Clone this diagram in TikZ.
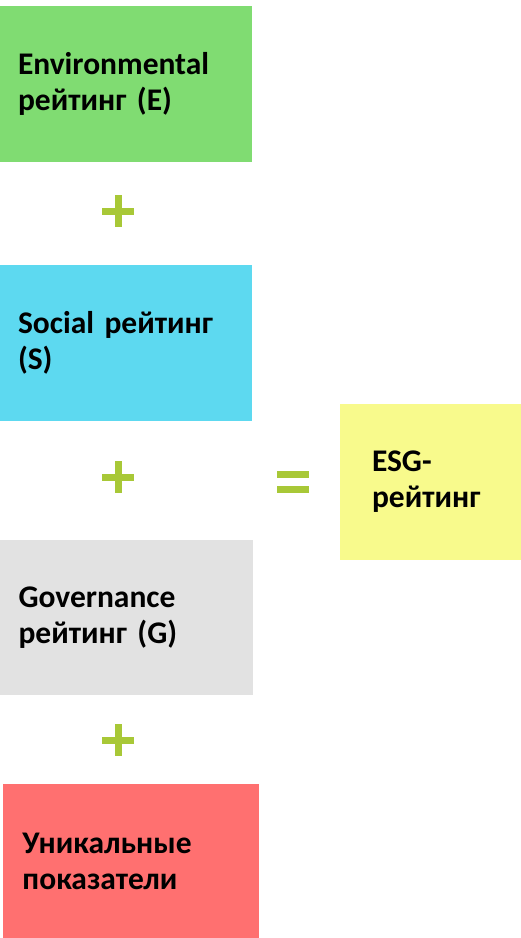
\documentclass[tikz,border=0pt]{standalone}
\usepackage{fontspec}
\setmainfont{Carlito}
\usetikzlibrary{calc}
\definecolor{envgreen}{HTML}{80DC72}
\definecolor{socblue}{HTML}{5DD9F0}
\definecolor{govgray}{HTML}{E2E2E2}
\definecolor{unired}{HTML}{FF7070}
\definecolor{esgyellow}{HTML}{F8FA8C}
\definecolor{signgreen}{HTML}{A8C837}
\tikzset{
  ratingbox/.style={rectangle, draw=none, fill=#1, minimum width=252pt, minimum height=156pt,
    text width=216pt, inner xsep=18pt, inner ysep=0pt, align=left,
    font=\fontsize{31.5}{36}\selectfont\bfseries},
  sign/.style={draw=signgreen, line width=7pt},
}
\begin{document}
\begin{tikzpicture}[x=1pt,y=-1pt]
	%Canvas%
	%===========================================================
	\useasboundingbox (0,0) rectangle (521,938);
	%Sizes%
	%===========================================================
	\def \Arm {16}; %Half length of a plus arm
	\def \Bar {16}; %Half length of an equals bar
	%Rating boxes%
	%===========================================================
	\node[ratingbox=envgreen] (env) at (126,84) {Environmental\\рейтинг (E)};
	\node[ratingbox=socblue] (soc) at (126,343) {Social рейтинг\\(S)};
	\node[ratingbox=govgray, minimum width=253pt, minimum height=155pt] (gov) at (126.5,617.5) {Governance\\рейтинг (G)};
	\node[ratingbox=unired, minimum width=256pt, minimum height=154pt, inner xsep=20pt, text width=216pt] (uni) at (130.5,861) {Уникальные\\показатели};
	\node[ratingbox=esgyellow, minimum width=181pt, text width=117pt, inner xsep=32pt] (esg) at (430.5,482) {ESG-\\рейтинг};
	%Signs%
	%===========================================================
	\coordinate (plus1) at (118,211); %Between E and S
	\coordinate (plus2) at (118,477); %Between S and G
	\coordinate (plus3) at (118,740); %Between G and unique
	\coordinate (equals) at (293,481.5); %Before ESG
	\foreach \p in {plus1,plus2,plus3}{
		\draw[sign] ($(\p)+(-\Arm,0)$) -- ($(\p)+(\Arm,0)$);
		\draw[sign] ($(\p)+(0,-\Arm)$) -- ($(\p)+(0,\Arm)$);
	}
	\draw[sign] ($(equals)+(-\Bar,-7.5)$) -- ($(equals)+(\Bar,-7.5)$); %Upper bar
	\draw[sign] ($(equals)+(-\Bar,7.5)$) -- ($(equals)+(\Bar,7.5)$); %Lower bar
\end{tikzpicture}
\end{document}
